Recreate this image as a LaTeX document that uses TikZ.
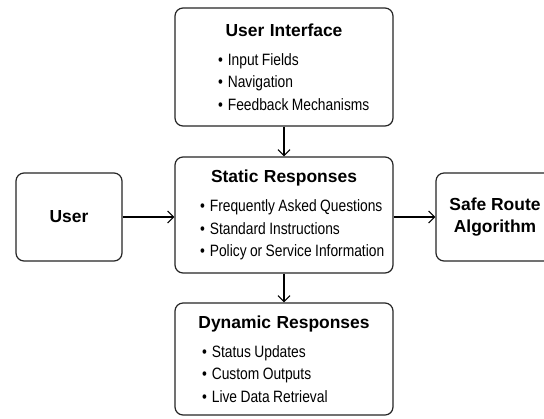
\documentclass[tikz,border=0pt]{standalone}
\usepackage{fontspec}
\setmainfont{Liberation Sans}
\newfontfamily\itemfont[FakeStretch=0.84]{Liberation Sans}
\usetikzlibrary{arrows.meta}
\newcommand{\hd}[1]{\makebox[218bp]{\normalfont\bfseries\fontsize{17.5}{22.5}\selectfont #1}}
\newcommand{\itm}[2]{\makebox[218bp][l]{\spaceskip=3.4bp\relax\hspace*{#1}\textbullet\hspace{5bp}#2}}

\begin{document}
\begin{tikzpicture}[x=1bp,y=-1bp,
    box/.style={draw=black!85, line width=1.2bp, rounded corners=8bp, inner sep=0pt,
      text width=218bp, align=left, font=\itemfont\fontsize{16.5}{22.5}\selectfont},
    endbox/.style={draw=black!85, line width=1.2bp, rounded corners=8bp,
      minimum width=106bp, minimum height=88bp, align=center,
      font=\bfseries\fontsize{17.5}{22}\selectfont},
    arr/.style={line width=1.1bp, -{Straight Barb[length=6bp,width=12bp]}}]
  \useasboundingbox[fill=white] (0,0) rectangle (544,418);
  % middle column
  \node[box, minimum height=118bp] (ui) at (284,67) {\hd{User Interface}\\[6.5bp]
    \itm{43bp}{Input Fields}\\ \itm{43bp}{Navigation}\\ \itm{43bp}{Feedback Mechanisms}};
  \node[box, minimum height=116bp] (static) at (284,215) {\hd{Static Responses}\\[6.5bp]
    \itm{25bp}{Frequently Asked Questions}\\ \itm{25bp}{Standard Instructions}\\
    \itm{25bp}{Policy or Service Information}};
  \node[box, minimum height=112bp] (dyn) at (284,359) {\hd{Dynamic Responses}\\[6.5bp]
    \itm{27bp}{Status Updates}\\ \itm{27bp}{Custom Outputs}\\ \itm{27bp}{Live Data Retrieval}};
  % sides
  \node[endbox] (user) at (69,217) {User};
  \node[endbox, minimum width=118bp] (safe) at (495,217) {Safe Route\\Algorithm};
  % arrows
  \draw[arr] (ui) -- (static);
  \draw[arr] (static) -- (dyn);
  \draw[arr] (user.east) -- (user.east -| static.west);
  \draw[arr] (static.east |- safe.west) -- (safe.west);
\end{tikzpicture}
\end{document}
